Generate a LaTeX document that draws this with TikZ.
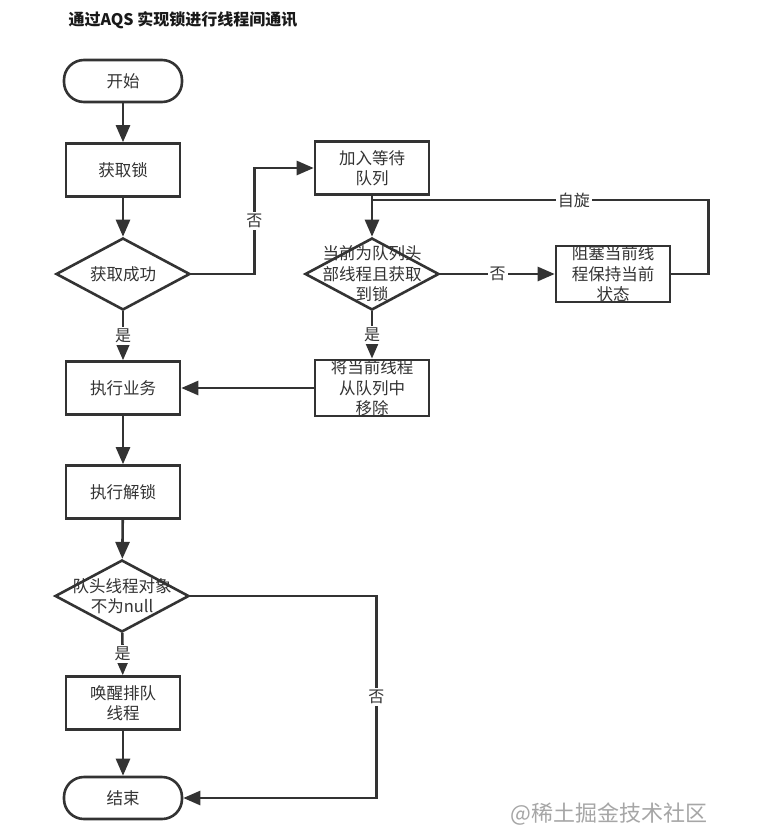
\documentclass[tikz,border=0pt]{standalone}
\usepackage{fontspec}
\setmainfont{Noto Sans CJK SC}
\usepackage{tikz}
\usetikzlibrary{shapes.geometric,arrows.meta,positioning}
\usepackage{xcolor}
\definecolor{ink}{HTML}{333333}

\begin{document}
\begin{tikzpicture}[x=1pt,y=-1pt,
    flow/.style={draw=ink, line width=2.6pt, text=ink, inner sep=0pt, align=center,
                 font=\fontsize{16.5}{20.5}\selectfont},
    box/.style={flow, minimum width=114pt, minimum height=53pt},
    terminal/.style={flow, rounded corners=20pt, minimum width=118pt, minimum height=42pt},
    decision/.style={flow, diamond, minimum width=134pt, minimum height=72pt},
    dtext/.style={text=ink, align=center, font=\fontsize{16.5}{20.5}\selectfont},
    arr/.style={draw=ink, line width=2.6pt, -{Triangle[length=17pt,width=14pt]}},
    line/.style={draw=ink, line width=2.6pt},
    tag/.style={fill=white, text=ink, inner sep=2pt, font=\fontsize{16}{18}\selectfont}]
    \useasboundingbox (0,0) rectangle (768,828);
    \fill[white] (0,0) rectangle (768,828);
    \node[anchor=west, text=black!90, font=\fontsize{16}{18}\selectfont\bfseries] (title) at (65,20) {通过AQS 实现锁进行线程间通讯};

    % main column
    \node[terminal] (start) at (123,81) {开始};
    \node[box] (lock) at (123,170) {获取锁};
    \node[decision, label={[dtext]center:获取成功}] (ok) at (123,274) {};
    \node[box] (work) at (123,388) {执行业务};
    \node[box] (unlock) at (123,492) {执行解锁};
    \node[decision, label={[dtext]center:{队头线程对象\\不为null}}] (head) at (122,596) {};
    \node[box] (wake) at (123,703) {唤醒排队\\线程};
    \node[terminal] (end) at (123,798) {结束};

    % queue column
    \node[box] (queue) at (372,168) {加入等待\\队列};
    \node[decision, label={[dtext]center:{当前为队列头\\部线程且获取\\到锁}}] (first) at (372,274) {};
    \node[box] (remove) at (372,388) {将当前线程\\从队列中\\移除};
    \node[box] (park) at (613,274) {阻塞当前线\\程保持当前\\状态};
    \coordinate (spin) at (372,200);

    \node[anchor=west, text=black!35, font=\fontsize{22}{24}\selectfont] (mark) at (507,814) {@稀土掘金技术社区};

    \draw[arr] (start) -- (lock);
    \draw[arr] (lock) -- (ok);
    \draw[arr] (ok.east) -- ++(63,0) |- node[tag, pos=0.25] {否} (queue.west);
    \draw[arr] (ok) -- node[tag] {是} (work);
    \draw[arr] (queue) -- (first);
    \draw[arr] (first) -- node[tag] {否} (park);
    \draw[line] (park.east) -- ++(37,0) |- node[tag, pos=0.7] {自旋} (spin);
    \draw[arr] (first) -- node[tag] {是} (remove);
    \draw[arr] (remove) -- (work);
    \draw[arr] (work) -- (unlock);
    \draw[arr] (unlock) -- (head);
    \draw[arr] (head) -- node[tag] {是} (wake);
    \draw[arr] (head.east) -- ++(186,0) |- node[tag, pos=0.25] {否} (end.east);
    \draw[arr] (wake) -- (end);
\end{tikzpicture}
\end{document}
